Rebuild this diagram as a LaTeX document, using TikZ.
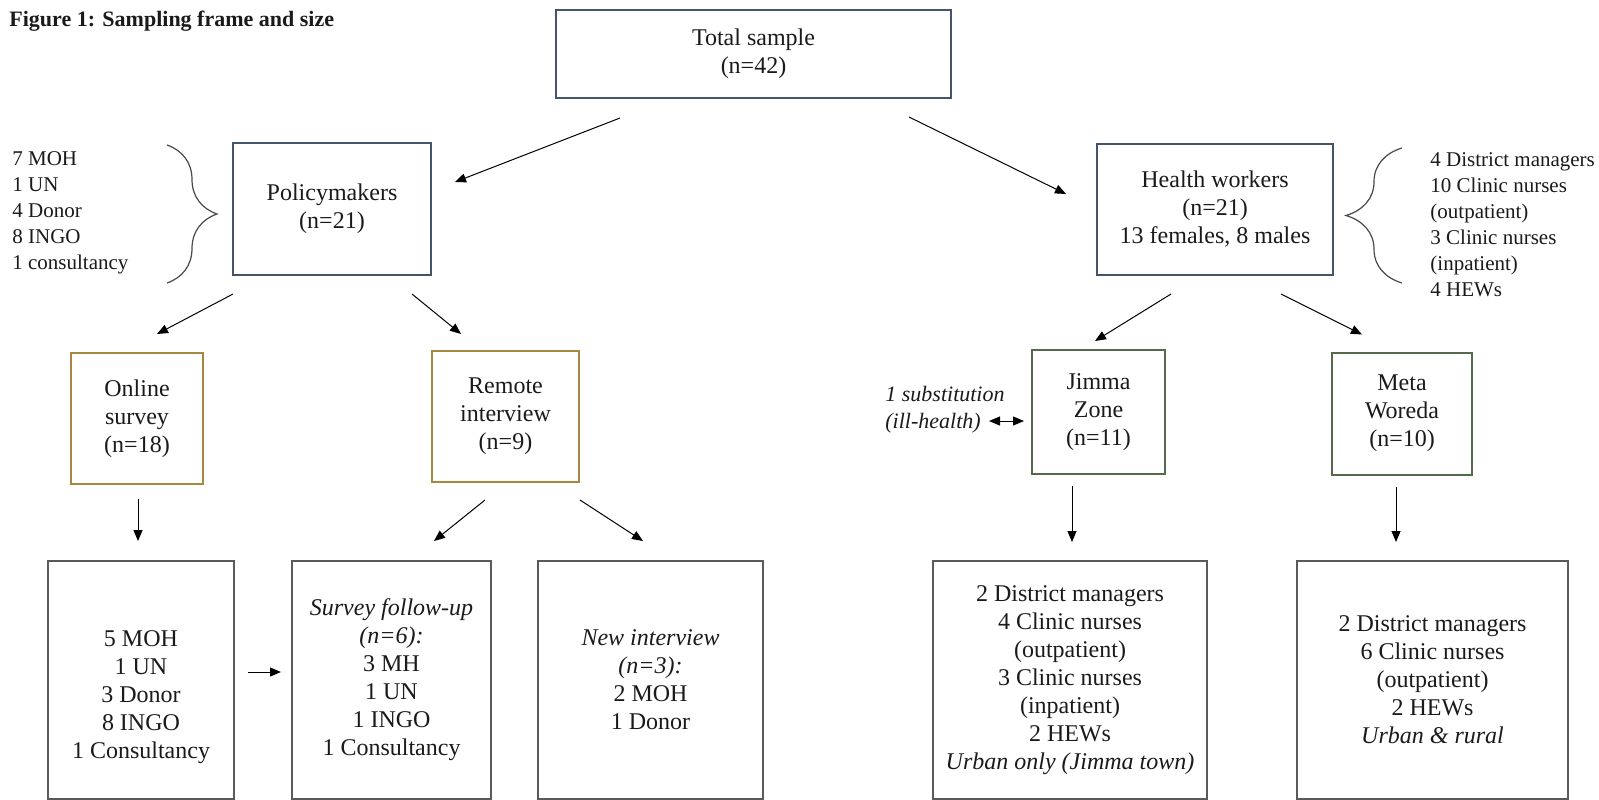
\documentclass[tikz,border=0pt]{standalone}
\usepackage{fontspec}
\setmainfont{Liberation Serif}
\usetikzlibrary{calc, arrows.meta, decorations.pathreplacing}
\definecolor{ink}{HTML}{1A1A1A}
\definecolor{navy}{HTML}{44546A}
\definecolor{ochre}{HTML}{A6883E}
\definecolor{moss}{HTML}{55694B}
\definecolor{frame}{HTML}{5A5A5A}

\begin{document}
\begin{tikzpicture}[
    x=0.5pt, y=-0.5pt,
    every node/.style={font=\fontsize{12}{14}\selectfont, text=ink, align=center, inner sep=0pt},
    topbox/.style={draw=navy, line width=1pt},
    modebox/.style={draw=ochre, line width=1pt},
    sitebox/.style={draw=moss, line width=1pt},
    resbox/.style={draw=frame, line width=1pt, minimum height=119pt},
    list/.style={font=\fontsize{10.5}{13}\selectfont, align=left, anchor=west},
    arr/.style={-{Triangle[length=5.5pt, width=4.5pt]}, line width=0.5pt},
    brc/.style={decorate, line width=0.6pt, draw=ink!80}
  ]
    \useasboundingbox (0,0) rectangle (1599,799);

    \node[font=\fontsize{11}{14}\selectfont\bfseries, anchor=west] (title) at (9, 21) {Figure 1: Sampling frame and size};

    \node[topbox, minimum width=197.5pt, minimum height=44pt] (total) at (753.5, 54) {Total sample\\(n=42)};
    \node[topbox, minimum width=99pt, minimum height=66pt] (policy) at (332, 209) {Policymakers\\(n=21)};
    \node[topbox, minimum width=118pt, minimum height=65.5pt] (health) at (1215, 209.5) {Health workers\\(n=21)\\13 females, 8 males};

    \node[list] (pmlist) at (12, 212.5) {7 MOH\\1 UN\\4 Donor\\8 INGO\\1 consultancy};
    \node[list] (hwlist) at (1430, 225) {4 District managers\\10 Clinic nurses\\(outpatient)\\3 Clinic nurses\\(inpatient)\\4 HEWs};

    \node[modebox, minimum width=66pt, minimum height=65.5pt] (online) at (137, 418.5) {Online\\survey\\(n=18)};
    \node[modebox, minimum width=73.5pt, minimum height=65.5pt] (remote) at (505.5, 416.5) {Remote\\interview\\(n=9)};
    \node[sitebox, minimum width=66.5pt, minimum height=62pt] (jimma) at (1098.5, 412) {Jimma\\Zone\\(n=11)};
    \node[sitebox, minimum width=70pt, minimum height=61pt] (meta) at (1402, 413.5) {Meta\\Woreda\\(n=10)};
    \node[font=\fontsize{11}{13.5}\selectfont\itshape, align=left, anchor=west] (subst) at (885, 409.5) {1 substitution\\(ill-health)};

    \node[resbox, minimum width=93pt] (survey) at (141, 680) {\mbox{}\\[11pt]5 MOH\\1 UN\\3 Donor\\8 INGO\\1 Consultancy};
    \node[resbox, minimum width=99.5pt] (followup) at (391.5, 680) {\textit{Survey follow-up}\\\textit{(n=6):}\\3 MH\\1 UN\\1 INGO\\1 Consultancy};
    \node[resbox, minimum width=112.5pt] (newint) at (650.5, 680) {\textit{New interview}\\\textit{(n=3):}\\2 MOH\\1 Donor};
    \node[resbox, minimum width=137pt] (jimmares) at (1070, 680) {2 District managers\\4 Clinic nurses\\(outpatient)\\3 Clinic nurses\\(inpatient)\\2 HEWs\\\textit{Urban only (Jimma town)}};
    \node[resbox, minimum width=135.5pt] (metares) at (1432.5, 680) {2 District managers\\6 Clinic nurses\\(outpatient)\\2 HEWs\\\textit{Urban \& rural}};

    % Braces
    \draw[brc, decoration={brace, amplitude=25pt}] (167, 145) -- (167, 283);
    \draw[brc, decoration={brace, amplitude=28pt}] (1402, 283) -- (1402, 148);

    % Arrows
    \draw[arr] ($(total.south west)+(65,19)$) -- ($(policy.north east)+(23,40)$);
    \draw[arr] ($(total.south east)+(-43,18)$) -- ($(health.north west)+(-30,51)$);
    \draw[arr] ($(policy.south west)+(1,18)$) -- ($(online.north east)+(-47,-18)$);
    \draw[arr] ($(policy.south east)+(-20,18)$) -- ($(remote.north west)+(30,-16)$);
    \draw[arr] ($(online.south)+(1,14)$) -- ($(survey.north)+(-3,-19)$);
    \draw[arr] ($(remote.south)+(-20.5,17)$) -- ($(followup.north east)+(-58,-19)$);
    \draw[arr] ($(remote.south)+(74.5,17)$) -- ($(newint.north)+(-7.5,-19)$);
    \draw[arr] ($(survey.east)+(13,-8)$) -- ($(followup.west)+(-10,-8)$);
    \draw[arr] ($(health.south)+(-44,18)$) -- ($(jimma.north)+(-3.5,-8)$);
    \draw[arr] ($(health.south)+(66,18)$) -- ($(meta.north)+(-40,-17)$);
    \draw[arr] ($(jimma.south)+(-26.5,11)$) -- ($(jimmares.north)+(2,-18)$);
    \draw[arr] ($(meta.south)+(-6,11)$) -- ($(metares.north)+(-36.5,-18)$);
    \draw[arr, {Triangle[length=5.5pt, width=4.5pt]}-{Triangle[length=5.5pt, width=4.5pt]}] ($(jimma.west)+(-42,9)$) -- ($(jimma.west)+(-7,9)$);
  \end{tikzpicture}
\end{document}
